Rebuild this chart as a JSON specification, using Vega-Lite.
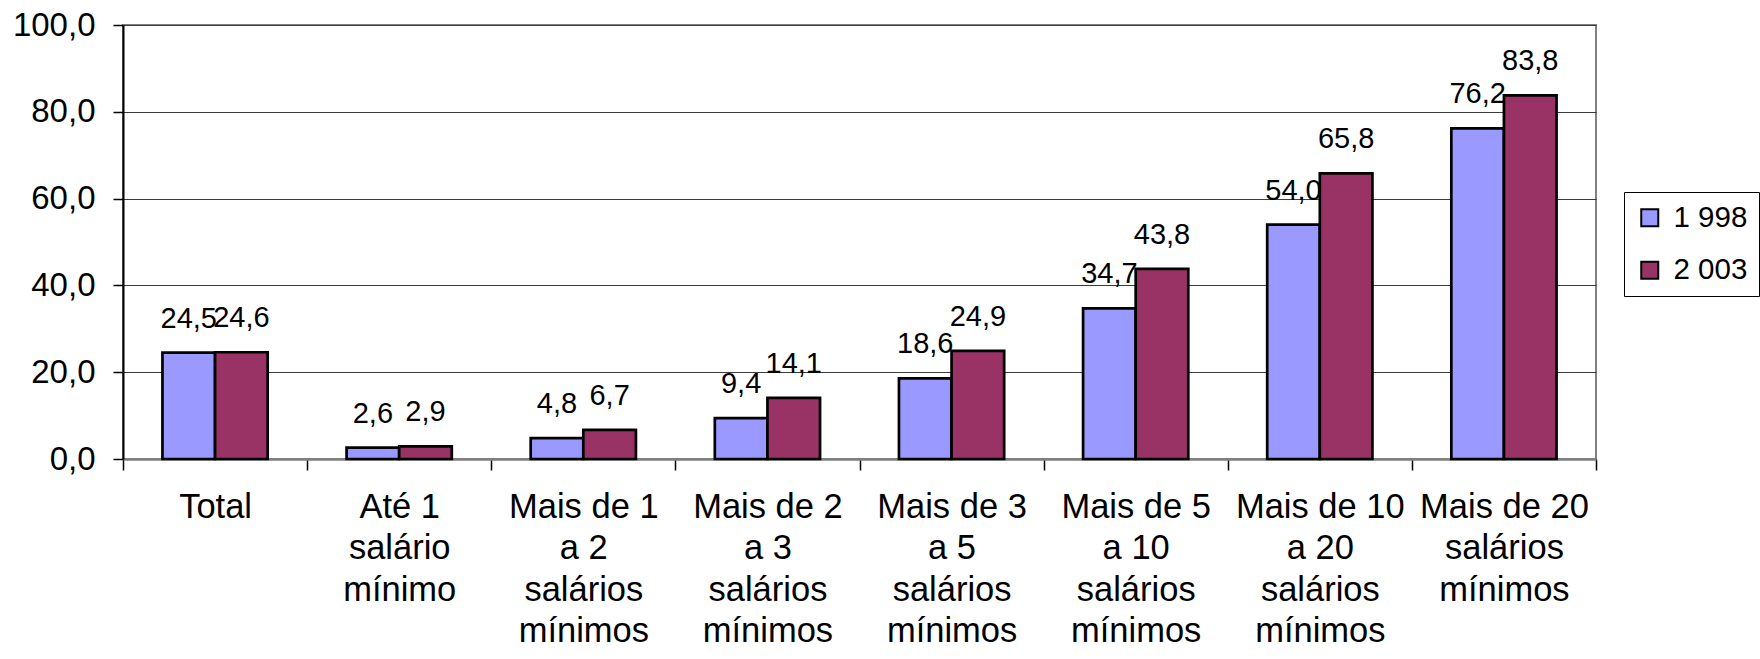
{
  "$schema": "https://vega.github.io/schema/vega-lite/v6.json",
  "width": 1473,
  "height": 434,
  "autosize": {"type": "none"},
  "padding": {"left": 123, "top": 25, "right": 164, "bottom": 200},
  "background": "white",
  "config": {
    "locale": {"number": {"decimal": ",", "thousands": ".", "grouping": [3], "currency": ["R$", ""]}},
    "font": "Liberation Sans",
    "view": {"stroke": "#808080", "strokeWidth": 2}
  },
  "data": {
    "values": [
      {"faixa": "Total", "ano": "1 998", "valor": 24.5},
      {"faixa": "Total", "ano": "2 003", "valor": 24.6},
      {"faixa": "Até 1 salário mínimo", "ano": "1 998", "valor": 2.6},
      {"faixa": "Até 1 salário mínimo", "ano": "2 003", "valor": 2.9},
      {"faixa": "Mais de 1 a 2 salários mínimos", "ano": "1 998", "valor": 4.8},
      {"faixa": "Mais de 1 a 2 salários mínimos", "ano": "2 003", "valor": 6.7},
      {"faixa": "Mais de 2 a 3 salários mínimos", "ano": "1 998", "valor": 9.4},
      {"faixa": "Mais de 2 a 3 salários mínimos", "ano": "2 003", "valor": 14.1},
      {"faixa": "Mais de 3 a 5 salários mínimos", "ano": "1 998", "valor": 18.6},
      {"faixa": "Mais de 3 a 5 salários mínimos", "ano": "2 003", "valor": 24.9},
      {"faixa": "Mais de 5 a 10 salários mínimos", "ano": "1 998", "valor": 34.7},
      {"faixa": "Mais de 5 a 10 salários mínimos", "ano": "2 003", "valor": 43.8},
      {"faixa": "Mais de 10 a 20 salários mínimos", "ano": "1 998", "valor": 54.0},
      {"faixa": "Mais de 10 a 20 salários mínimos", "ano": "2 003", "valor": 65.8},
      {"faixa": "Mais de 20 salários mínimos", "ano": "1 998", "valor": 76.2},
      {"faixa": "Mais de 20 salários mínimos", "ano": "2 003", "valor": 83.8}
    ]
  },
  "encoding": {
    "x": {
      "field": "faixa",
      "type": "nominal",
      "sort": null,
      "scale": {"paddingInner": 0, "paddingOuter": 0},
      "axis": {
        "title": null,
        "labelAngle": 0,
        "labelFont": "Liberation Sans",
        "labelFontSize": 34.5,
        "labelColor": "black",
        "labelLineHeight": 41.5,
        "labelBaseline": "top",
        "labelPadding": 20,
        "labelLimit": 0,
        "labelExpr": "split(replace(replace(replace(datum.label, ' a ', '|a '), ' sal', '|sal'), ' mín', '|mín'), '|')",
        "tickBand": "extent",
        "tickSize": 11,
        "tickColor": "black",
        "tickWidth": 1.5,
        "domainColor": "#808080",
        "domainWidth": 2.5
      }
    },
    "xOffset": {"field": "ano", "type": "nominal", "scale": {"paddingInner": 0, "paddingOuter": 0.75}},
    "y": {
      "field": "valor",
      "type": "quantitative",
      "stack": null,
      "scale": {"domain": [0, 100], "nice": false},
      "axis": {
        "title": null,
        "values": [0, 20, 40, 60, 80, 100],
        "format": ".1f",
        "labelFont": "Liberation Sans",
        "labelFontSize": 33,
        "labelColor": "black",
        "labelPadding": 18,
        "tickSize": 10,
        "tickColor": "black",
        "tickWidth": 1.5,
        "domainColor": "black",
        "domainWidth": 2,
        "gridColor": "#3c3c3c",
        "gridWidth": 1.2
      }
    }
  },
  "layer": [
    {
      "mark": {"type": "bar", "stroke": "black", "strokeWidth": 2.7},
      "encoding": {
        "color": {
          "field": "ano",
          "type": "nominal",
          "scale": {"range": ["#9999FF", "#993366"]},
          "legend": {
            "title": null,
            "orient": "none",
            "legendX": 1501,
            "legendY": 167,
            "symbolType": "square",
            "symbolSize": 289,
            "symbolStrokeColor": "black",
            "symbolStrokeWidth": 2,
            "labelFont": "Liberation Sans",
            "labelFontSize": 29.5,
            "labelColor": "black",
            "labelOffset": 9,
            "rowPadding": 21.5,
            "padding": 11,
            "strokeColor": "black",
            "fillColor": "white"
          }
        }
      }
    },
    {
      "mark": {"type": "text", "baseline": "alphabetic", "dy": -25, "font": "Liberation Sans", "fontSize": 29, "color": "black"},
      "encoding": {
        "text": {"field": "valor", "type": "quantitative", "format": ".1f"}
      }
    }
  ]
}
